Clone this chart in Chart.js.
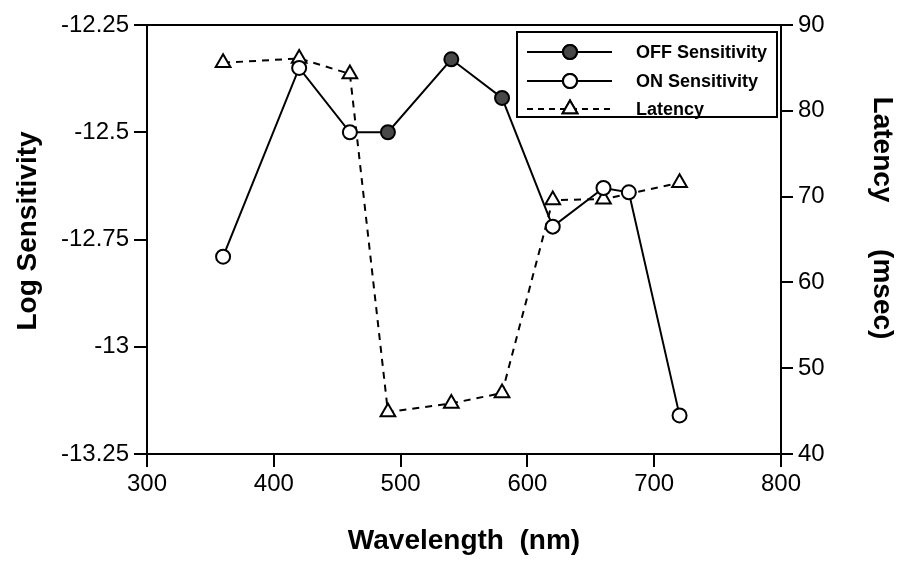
<!DOCTYPE html>
<html>
<head>
<meta charset="utf-8">
<script src="https://cdn.jsdelivr.net/npm/chart.js@4.4.1/dist/chart.umd.min.js"></script>
<style>
  html, body { margin: 0; padding: 0; background: #fff; }
  #wrap { width: 906px; height: 565px; }
</style>
</head>
<body>
<div id="wrap"><canvas id="chart" width="906" height="565"></canvas></div>
<script>
// sensitivity (log units) and latency (msec) against wavelength (nm)
const onWavelength = [360, 420, 460, 620, 660, 680, 720];
const onSensitivity = [-12.79, -12.35, -12.5, -12.72, -12.63, -12.64, -13.16];
const offWavelength = [490, 540, 580];
const offSensitivity = [-12.5, -12.33, -12.42];
const latencyWavelength = [360, 420, 460, 490, 540, 580, 620, 660, 720];
const latencyMsec = [85.6, 86.1, 84.3, 44.9, 45.9, 47.1, 69.6, 69.7, 71.6];

const FONT = "'Liberation Sans', Arial, Helvetica, sans-serif";

const toPoints = (xs, ys) => xs.map((x, i) => ({ x: x, y: ys[i] }));
// one solid trace running through ON and OFF points in wavelength order
const sensitivityTrace = toPoints(onWavelength, onSensitivity)
    .concat(toPoints(offWavelength, offSensitivity))
    .sort((a, b) => a.x - b.x);

// top edge of the plot box (the other three are axis borders)
const frameTop = {
    id: 'frameTop',
    beforeDatasetsDraw(chart) {
        const { ctx, chartArea: a } = chart;
        ctx.save();
        ctx.strokeStyle = '#000';
        ctx.lineWidth = 2;
        ctx.beginPath();
        ctx.moveTo(a.left - 1, a.top);
        ctx.lineTo(a.right + 1, a.top);
        ctx.stroke();
        ctx.restore();
    }
};

// rotated titles for the two y axes, sitting a little above centre
const sideTitles = {
    id: 'sideTitles',
    afterDraw(chart) {
        const ctx = chart.ctx;
        const put = (text, x, y, rot) => {
            ctx.save();
            ctx.translate(x, y);
            ctx.rotate(rot);
            ctx.fillStyle = '#000';
            ctx.font = 'bold 28px ' + FONT;
            ctx.textAlign = 'center';
            ctx.textBaseline = 'middle';
            ctx.fillText(text, 0, 0);
            ctx.restore();
        };
        put('Log Sensitivity', 28, 231, -Math.PI / 2);
        put('Latency      (msec)', 882, 218, Math.PI / 2);
    }
};

// boxed legend: line sample with the marker in the middle
const boxLegend = {
    id: 'boxLegend',
    afterDatasetsDraw(chart) {
        const ctx = chart.ctx;
        const box = { x: 517, y: 32, w: 260, h: 85 };
        ctx.save();
        ctx.fillStyle = '#fff';
        ctx.fillRect(box.x, box.y, box.w, box.h);
        ctx.strokeStyle = '#000';
        ctx.lineWidth = 2;
        ctx.strokeRect(box.x, box.y, box.w, box.h);

        const rows = [52, 81, 109];
        chart.data.datasets.forEach((ds, i) => {
            if (!ds.legend) return;
            const y = rows[i];
            ctx.strokeStyle = '#000';
            ctx.lineWidth = 2;
            ctx.setLineDash(ds.legend.dash);
            ctx.beginPath();
            ctx.moveTo(527, y);
            ctx.lineTo(612, y);
            ctx.stroke();
            ctx.setLineDash([]);
            Chart.helpers.drawPoint(ctx, {
                pointStyle: ds.pointStyle,
                radius: ds.pointRadius,
                borderWidth: ds.pointBorderWidth,
                rotation: 0
            }, 570, y);
            ctx.fillStyle = ds.pointBackgroundColor;
            ctx.strokeStyle = ds.pointBorderColor;
            ctx.lineWidth = ds.pointBorderWidth;
            ctx.fill();
            ctx.stroke();

            ctx.fillStyle = '#000';
            ctx.font = 'bold 18px ' + FONT;
            ctx.textBaseline = 'middle';
            ctx.textAlign = 'left';
            ctx.fillText(ds.label, 636, y + 1);
        });
        ctx.restore();
    }
};

const axisLine = { display: true, color: '#000', width: 2 };
const tickFont = { family: FONT, size: 24 };
const titleFont = { family: FONT, size: 28, weight: 'bold' };

new Chart(document.getElementById('chart'), {
    type: 'scatter',
    data: {
        datasets: [
            {
                label: 'OFF Sensitivity',
                data: toPoints(offWavelength, offSensitivity),
                yAxisID: 'y',
                showLine: false,
                pointStyle: 'circle',
                pointRadius: 7,
                pointBorderWidth: 2,
                pointBackgroundColor: '#484848',
                pointBorderColor: '#000',
                legend: { dash: [] }
            },
            {
                label: 'ON Sensitivity',
                data: toPoints(onWavelength, onSensitivity),
                yAxisID: 'y',
                showLine: false,
                pointStyle: 'circle',
                pointRadius: 7,
                pointBorderWidth: 2,
                pointBackgroundColor: '#fff',
                pointBorderColor: '#000',
                legend: { dash: [] }
            },
            {
                label: 'Latency',
                data: toPoints(latencyWavelength, latencyMsec),
                yAxisID: 'y1',
                showLine: true,
                borderColor: '#000',
                borderWidth: 2,
                borderDash: [7, 6],
                pointStyle: 'triangle',
                pointRadius: 8.5,
                pointBorderWidth: 2,
                pointBackgroundColor: '#fff',
                pointBorderColor: '#000',
                legend: { dash: [6, 5] }
            },
            {
                label: 'trace',
                data: sensitivityTrace,
                yAxisID: 'y',
                showLine: true,
                borderColor: '#000',
                borderWidth: 2,
                pointRadius: 0
            }
        ]
    },
    options: {
        responsive: false,
        animation: false,
        devicePixelRatio: 1,
        layout: { padding: { top: 25, left: 0, right: 0, bottom: 0 } },
        plugins: {
            legend: { display: false },
            tooltip: { enabled: false }
        },
        scales: {
            x: {
                type: 'linear',
                position: 'bottom',
                min: 300,
                max: 800,
                afterFit: s => { s.height = 111; },
                ticks: { stepSize: 100, color: '#000', font: tickFont, padding: 3, maxRotation: 0 },
                grid: { drawOnChartArea: false, drawTicks: true, tickLength: 13, color: '#000', lineWidth: 2 },
                border: axisLine,
                title: { display: true, text: 'Wavelength  (nm)', color: '#000', font: titleFont, padding: { bottom: 7 } }
            },
            y: {
                type: 'linear',
                position: 'left',
                min: -13.25,
                max: -12.25,
                afterFit: s => { s.width = 147; },
                ticks: {
                    stepSize: 0.25,
                    color: '#000',
                    font: tickFont,
                    padding: 5,
                    callback: v => String(parseFloat(v.toFixed(2)))
                },
                grid: { drawOnChartArea: false, drawTicks: true, tickLength: 13, color: '#000', lineWidth: 2 },
                border: axisLine
            },
            y1: {
                type: 'linear',
                position: 'right',
                min: 40,
                max: 90,
                afterFit: s => { s.width = 125; },
                ticks: { stepSize: 10, color: '#000', font: tickFont, padding: 5 },
                grid: { drawOnChartArea: false, drawTicks: true, tickLength: 12, color: '#000', lineWidth: 2 },
                border: axisLine
            }
        }
    },
    plugins: [frameTop, boxLegend, sideTitles]
});
</script>
</body>
</html>
